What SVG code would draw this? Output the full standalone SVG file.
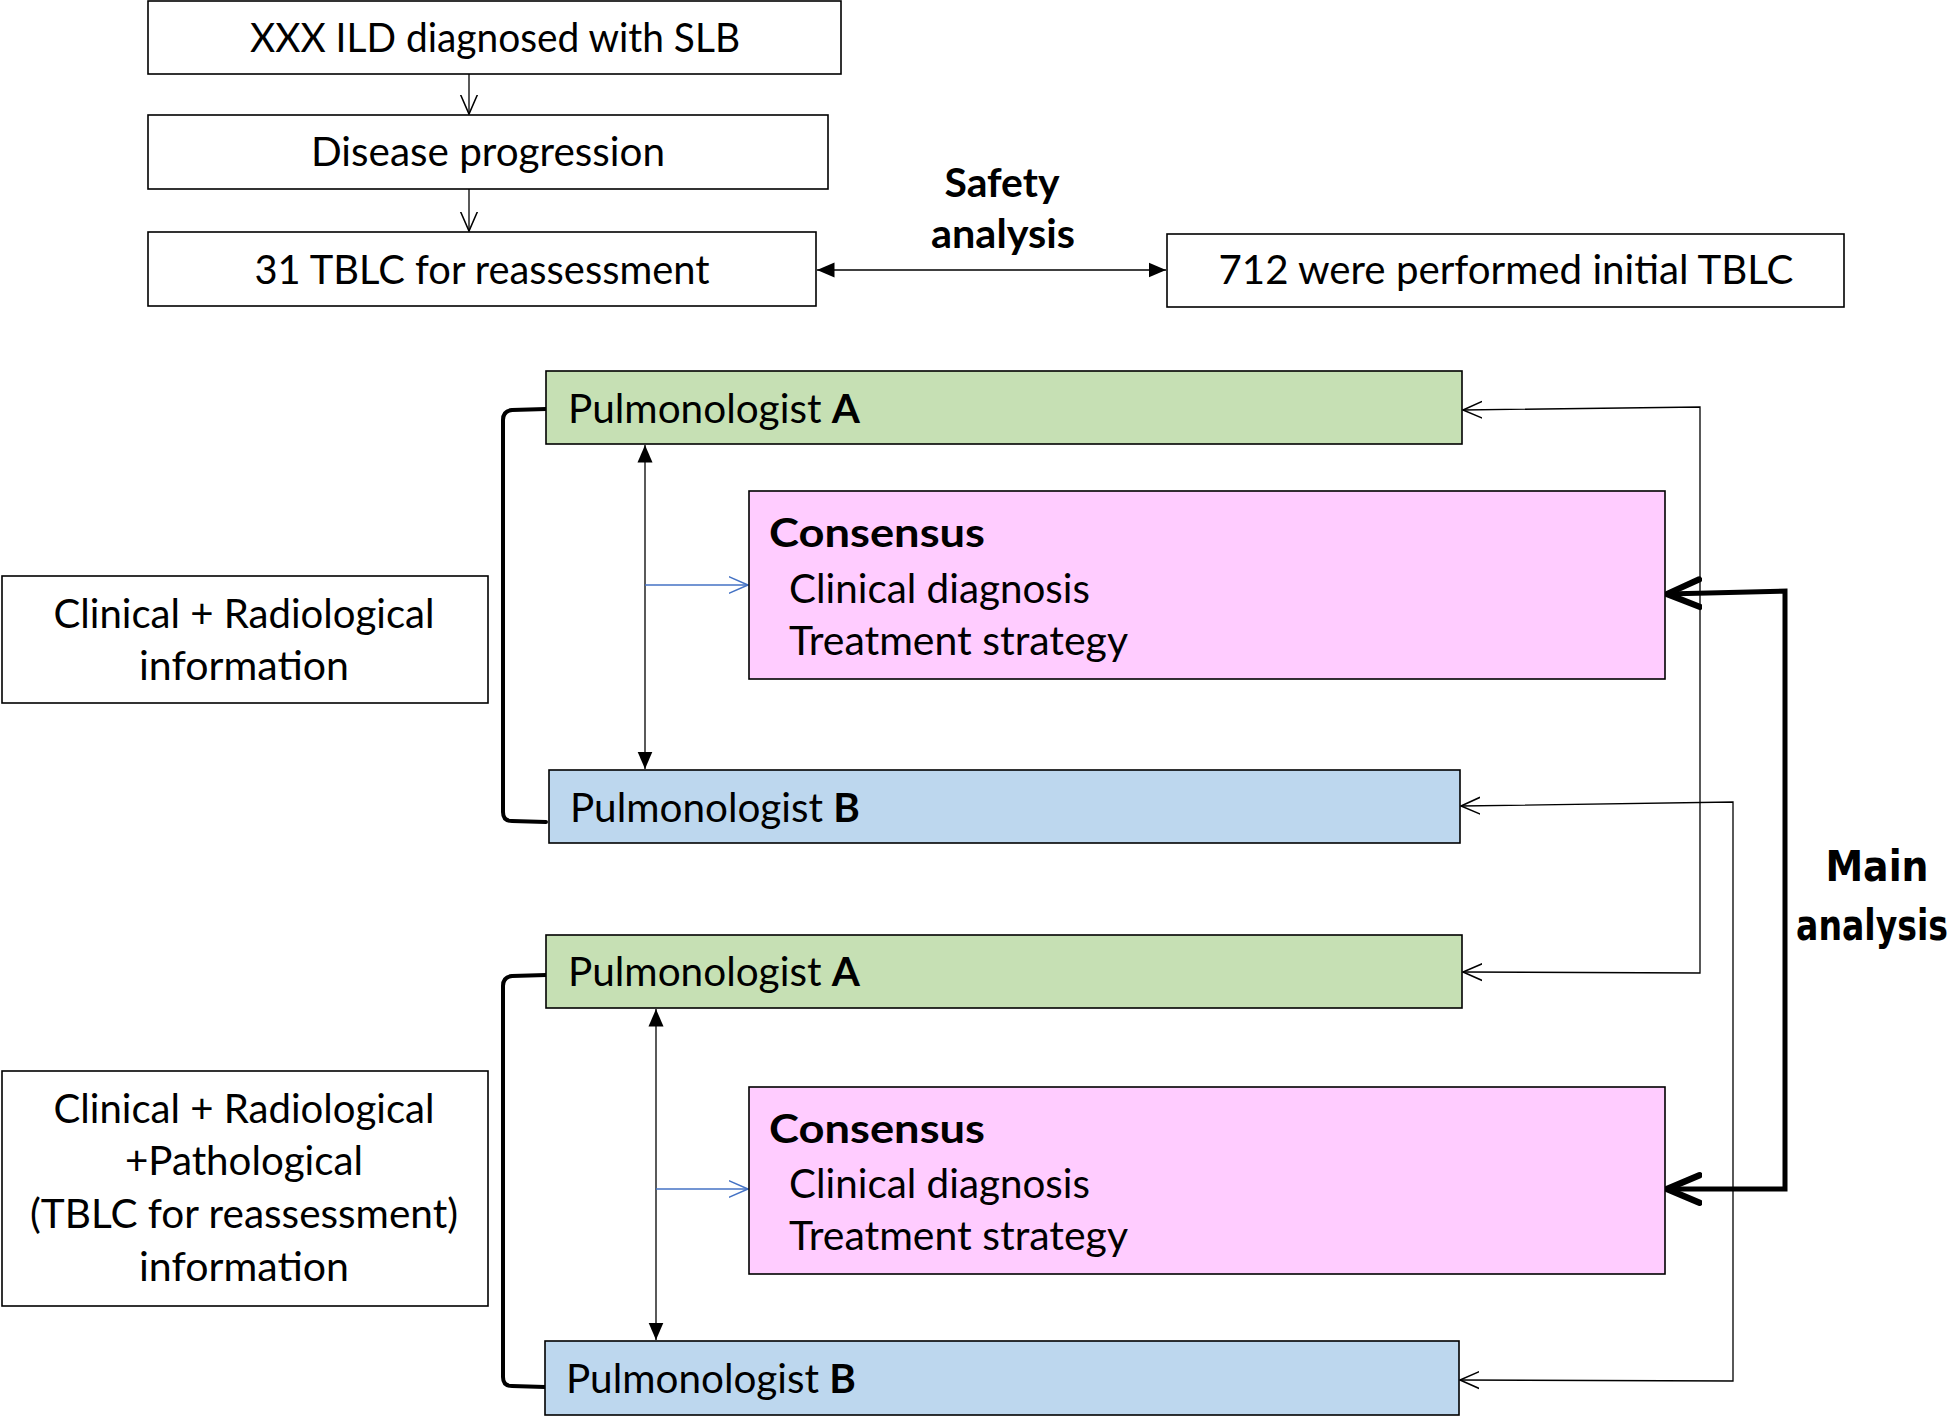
<svg xmlns="http://www.w3.org/2000/svg" width="1960" height="1416" viewBox="0 0 1960 1416">
<defs>
<style>
.box{fill:#fff;stroke:#000;stroke-width:1.6}
.ga{fill:#C6E0B4;stroke:#000;stroke-width:1.6}
.pb{fill:#BDD7EE;stroke:#000;stroke-width:1.6}
.cs{fill:#FFCCFF;stroke:#000;stroke-width:1.6}
.t{font-family:Lato,"Open Sans","Liberation Sans",sans-serif;font-size:40px;fill:#000}
.c{text-anchor:middle}
.b{font-weight:bold}
.ma{font-family:"DejaVu Sans",Verdana,sans-serif;font-weight:bold;font-size:43px;fill:#000;text-anchor:middle}
.thin{fill:none;stroke:#000;stroke-width:1.3}
.blue{fill:none;stroke:#4472C4;stroke-width:1.3}
.brk{fill:none;stroke:#000;stroke-width:4;stroke-linecap:round;stroke-linejoin:round}
.thick{fill:none;stroke:#000;stroke-width:5}
</style>
<marker id="vOpen" markerUnits="userSpaceOnUse" markerWidth="24" markerHeight="24" refX="16" refY="10" orient="auto-start-reverse" viewBox="0 0 20 20">
<path d="M0,3 L16,10 L0,17" fill="none" stroke="#000" stroke-width="1.3"/>
</marker>
<marker id="vBlue" markerUnits="userSpaceOnUse" markerWidth="24" markerHeight="24" refX="16" refY="10" orient="auto-start-reverse" viewBox="0 0 20 20">
<path d="M0,3 L16,10 L0,17" fill="none" stroke="#4472C4" stroke-width="1.3"/>
</marker>
<marker id="tri" markerUnits="userSpaceOnUse" markerWidth="20" markerHeight="20" refX="14" refY="8" orient="auto-start-reverse" viewBox="0 0 16 16">
<path d="M0,2 L14,8 L0,14 Z" fill="#000"/>
</marker>
<marker id="thickOpen" markerUnits="userSpaceOnUse" markerWidth="40" markerHeight="40" refX="28" refY="16" orient="auto-start-reverse" viewBox="0 0 32 32">
<path d="M2,5 L28,16 L2,27" fill="none" stroke="#000" stroke-width="5" stroke-linecap="round" stroke-linejoin="round"/>
</marker>
</defs>
<rect width="1960" height="1416" fill="#fff"/>

<g id="connectors">
<line class="thin" x1="469" y1="74" x2="469" y2="114" marker-end="url(#vOpen)"/>
<line class="thin" x1="469" y1="189" x2="469" y2="231" marker-end="url(#vOpen)"/>
<line class="thin" x1="817" y1="270" x2="1166" y2="270" marker-start="url(#tri)" marker-end="url(#tri)"/>
<line class="thin" x1="645" y1="445" x2="645" y2="769" marker-start="url(#tri)" marker-end="url(#tri)"/>
<line class="blue" x1="645" y1="585" x2="748" y2="585" marker-end="url(#vBlue)"/>
<line class="thin" x1="656" y1="1009" x2="656" y2="1340" marker-start="url(#tri)" marker-end="url(#tri)"/>
<line class="blue" x1="656" y1="1189" x2="748" y2="1189" marker-end="url(#vBlue)"/>
<polyline class="thin" points="1463,410 1700,407 1700,973 1463,972" marker-start="url(#vOpen)" marker-end="url(#vOpen)"/>
<polyline class="thin" points="1461,806 1733,802 1733,1381 1460,1380" marker-start="url(#vOpen)" marker-end="url(#vOpen)"/>
<polyline class="thick" points="1667,594 1785,591 1785,1189 1667,1189" marker-start="url(#thickOpen)" marker-end="url(#thickOpen)"/>
<path class="brk" d="M546,409 L512,410 Q503,411 503,420 L503,812 Q503,821 512,821 L546,822"/>
<path class="brk" d="M546,975 L512,976 Q503,977 503,986 L503,1377 Q503,1386 512,1386 L545,1387"/>
</g>

<g id="n-slb">
<rect class="box" x="148" y="1" width="693" height="73"/>
<text class="t c" x="495" y="52" textLength="490" lengthAdjust="spacingAndGlyphs">XXX ILD diagnosed with SLB</text>
</g>
<g id="n-progression">
<rect class="box" x="148" y="115" width="680" height="74"/>
<text class="t c" x="488" y="166" textLength="354" lengthAdjust="spacingAndGlyphs">Disease progression</text>
</g>
<g id="n-tblc31">
<rect class="box" x="148" y="232" width="668" height="74"/>
<text class="t c" x="482" y="284" textLength="455" lengthAdjust="spacingAndGlyphs">31 TBLC for reassessment</text>
</g>
<g id="n-tblc712">
<rect class="box" x="1167" y="234" width="677" height="73"/>
<text class="t c" x="1506" y="284" textLength="575" lengthAdjust="spacingAndGlyphs">712 were performed initial TBLC</text>
</g>
<g id="lbl-safety">
<text class="t c b" x="1002" y="197" textLength="115" lengthAdjust="spacingAndGlyphs">Safety</text>
<text class="t c b" x="1003" y="248" textLength="144" lengthAdjust="spacingAndGlyphs">analysis</text>
</g>

<g id="n-info1">
<rect class="box" x="2" y="576" width="486" height="127"/>
<text class="t c" x="244" y="628" textLength="381" lengthAdjust="spacingAndGlyphs">Clinical + Radiological</text>
<text class="t c" x="244" y="680" textLength="210" lengthAdjust="spacingAndGlyphs">information</text>
</g>
<g id="n-info2">
<rect class="box" x="2" y="1071" width="486" height="235"/>
<text class="t c" x="244" y="1123" textLength="381" lengthAdjust="spacingAndGlyphs">Clinical + Radiological</text>
<text class="t c" x="244" y="1175" textLength="238" lengthAdjust="spacingAndGlyphs">+Pathological</text>
<text class="t c" x="244" y="1228" textLength="428" lengthAdjust="spacingAndGlyphs">(TBLC for reassessment)</text>
<text class="t c" x="244" y="1281" textLength="210" lengthAdjust="spacingAndGlyphs">information</text>
</g>

<g id="n-pulmA1">
<rect class="ga" x="546" y="371" width="916" height="73"/>
<text class="t" x="568" y="423" textLength="292" lengthAdjust="spacingAndGlyphs">Pulmonologist <tspan class="b">A</tspan></text>
</g>
<g id="n-cons1">
<rect class="cs" x="749" y="491" width="916" height="188"/>
<text class="t b" x="769" y="547" textLength="216" lengthAdjust="spacingAndGlyphs">Consensus</text>
<text class="t" x="789" y="603" textLength="301" lengthAdjust="spacingAndGlyphs">Clinical diagnosis</text>
<text class="t" x="789" y="655" textLength="339" lengthAdjust="spacingAndGlyphs">Treatment strategy</text>
</g>
<g id="n-pulmB1">
<rect class="pb" x="549" y="770" width="911" height="73"/>
<text class="t" x="570" y="822" textLength="290" lengthAdjust="spacingAndGlyphs">Pulmonologist <tspan class="b">B</tspan></text>
</g>

<g id="n-pulmA2">
<rect class="ga" x="546" y="935" width="916" height="73"/>
<text class="t" x="568" y="986" textLength="292" lengthAdjust="spacingAndGlyphs">Pulmonologist <tspan class="b">A</tspan></text>
</g>
<g id="n-cons2">
<rect class="cs" x="749" y="1087" width="916" height="187"/>
<text class="t b" x="769" y="1143" textLength="216" lengthAdjust="spacingAndGlyphs">Consensus</text>
<text class="t" x="789" y="1198" textLength="301" lengthAdjust="spacingAndGlyphs">Clinical diagnosis</text>
<text class="t" x="789" y="1250" textLength="339" lengthAdjust="spacingAndGlyphs">Treatment strategy</text>
</g>
<g id="n-pulmB2">
<rect class="pb" x="545" y="1341" width="914" height="74"/>
<text class="t" x="566" y="1393" textLength="290" lengthAdjust="spacingAndGlyphs">Pulmonologist <tspan class="b">B</tspan></text>
</g>

<g id="lbl-main">
<text class="ma" transform="translate(1877,881) scale(0.88,1)">Main</text>
<text class="ma" transform="translate(1872,940) scale(0.77,1)">analysis</text>
</g>
</svg>
